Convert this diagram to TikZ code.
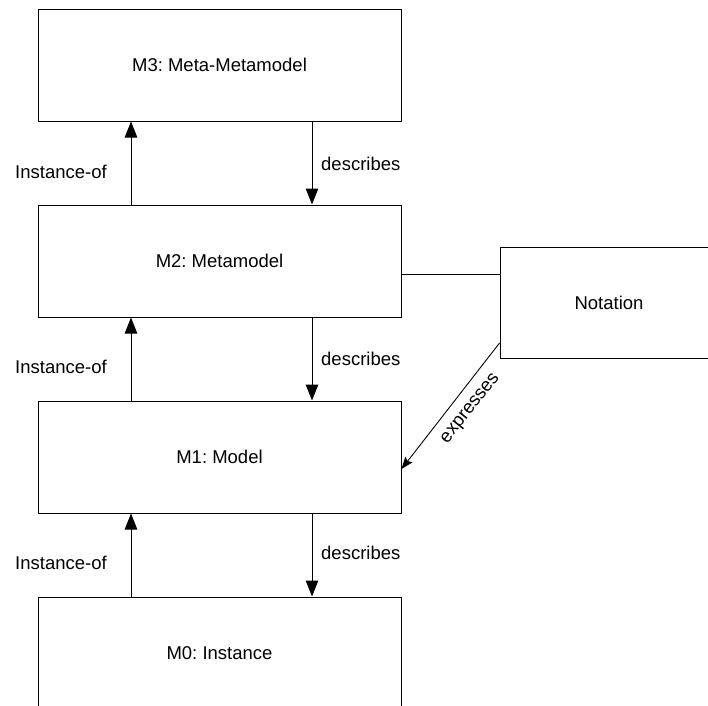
\documentclass[tikz,border=0pt]{standalone}
\usepackage{fontspec}
\setmainfont{Liberation Sans}
\usetikzlibrary{arrows.meta}
\frenchspacing
\begin{document}
\begin{tikzpicture}[x=1pt,y=-1pt,
  font=\fontsize{18.5}{22}\selectfont,
  level/.style={draw, line width=1pt, minimum width=363pt, minimum height=112pt, inner sep=0pt},
  link/.style={line width=1pt, -{Triangle[length=16pt,width=12.5pt]}},
  lbl/.style={inner sep=0pt, anchor=base}]
\useasboundingbox (0,0) rectangle (708,705);
\clip (0,0) rectangle (708,705);
\fill[white] (0,0) rectangle (708,705);

% the four modelling levels
\node[level] (m3) at (219.5,65)  {M3: Meta-Metamodel};
\node[level] (m2) at (219.5,261) {M2: Metamodel};
\node[level] (m1) at (219.5,457) {M1: Model};
\node[level] (m0) at (219.5,653) {M0: Instance};

% notation box on the right
\node[draw, line width=1pt, minimum width=218pt, minimum height=111pt, inner sep=0pt]
  (nota) at (609,302.5) {Notation};

% instance-of (upwards) and describes (downwards) links
\foreach \lo/\hi/\iy/\dy in {m2/m3/178/170, m1/m2/373/365, m0/m1/569/559} {
  \draw[link] ([xshift=-88.5pt]\lo.north) -- ([xshift=-88.5pt]\hi.south);
  \draw[link] ([xshift=92.5pt]\hi.south) -- ([xshift=92.5pt]\lo.north);
  \node[lbl] at (61,\iy) {Instance-of};
  \node[lbl, anchor=base west] at (321,\dy) {describes};
}

% notation attached to the metamodel
\draw[line width=1pt] ([yshift=-13pt]m2.east) -- ([yshift=-13pt]m2.east -| nota.west);

% notation expresses the model
\draw[line width=0.9pt, -{Stealth[length=12pt,width=9pt,inset=2pt]}]
  ([yshift=-40.5pt]nota.west) -- ([yshift=-12pt]m1.east);
\node[rotate=51.8, inner sep=0pt] at (471,409) {expresses};
\end{tikzpicture}
\end{document}
